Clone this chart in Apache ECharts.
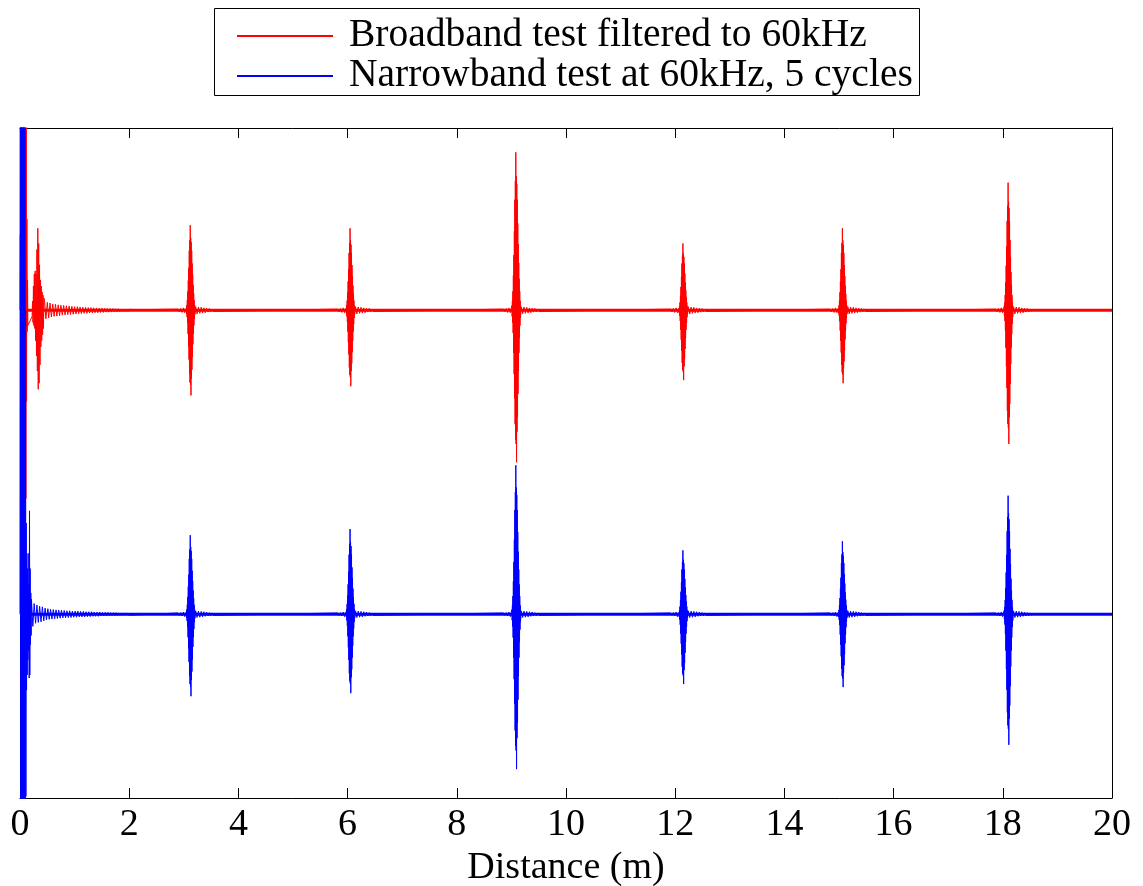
<!DOCTYPE html>
<html><head><meta charset="utf-8">
<script src="https://cdn.jsdelivr.net/npm/echarts@6/dist/echarts.min.js"></script>
<style>html,body{margin:0;padding:0;background:#fff}#c{width:1143px;height:886px}</style>
</head><body><div id="c"></div>
<script>
// ---------- data ----------
const seriesNames = ['Broadband test filtered to 60kHz', 'Narrowband test at 60kHz, 5 cycles'];
const xAxisTitle = 'Distance (m)';
const xTicks = [0, 2, 4, 6, 8, 10, 12, 14, 16, 18, 20];
const traceOffsets = [1, 0];            // red trace lifted by 1 unit, blue at 0
const yRange = [-0.605, 1.6];

// distances (m) of the echoes
const echoDistances = [3.118, 6.045, 9.081, 12.141, 15.062, 18.097];
const burstStep = 0.0045;  // spacing between successive half-cycle peaks inside bursts (m)
const headStep = 0.006;
const ringStep = 0.025;    // spacing in ringing (m)

// red: direct signal near 0 m
const redHeadStart = 0.0;
const redHead = [0.0, 0.25, -0.2, 0.3, -0.3, 0.35, -0.3, 0.3, -0.4, 0.4, -0.35, 0.3, -0.3, 0.35, -0.4, 0.45, -0.5, 0.6, -0.62, 1.0, -0.3, 0.3, -0.07, 0.1, -0.05];
// red: first echo at ~0.33 m
const redFirstStart = 0.222, redFirstStep = 0.008;
const redFirst = [-0.02, 0.03, -0.04, 0.08, -0.05, 0.12, -0.06, 0.13, -0.1, 0.12, -0.15, 0.2, -0.2, 0.27, -0.26, 0.22, -0.24, 0.15, -0.18, 0.1, -0.12, 0.08, -0.1, 0.06, -0.08, 0.05, -0.06, 0.04];
// red: decaying ringing 0.45 - 2.2 m
const redTailStart = 0.45;
const redTail = [0.03, -0.028, 0.026, -0.025, 0.024, -0.022, 0.021, -0.02, 0.02, -0.019,
  0.018, -0.018, 0.017, -0.016, 0.016, -0.015, 0.015, -0.014, 0.014, -0.014,
  0.013, -0.013, 0.012, -0.012, 0.012, -0.011, 0.011, -0.011, 0.01, -0.01,
  0.01, -0.01, 0.009, -0.009, 0.009, -0.009, 0.008, -0.008, 0.008, -0.008,
  0.007, -0.007, 0.007, -0.007, 0.007, -0.006, 0.006, -0.006, 0.006, -0.006,
  0.006, -0.005, 0.005, -0.005, 0.005, -0.005, 0.004, -0.004, 0.004, -0.004,
  0.004, -0.004, 0.003, -0.003, 0.003, -0.003, 0.002, -0.002, 0.002, -0.002];
// red echo bursts: upper half-cycle peaks and lower half-cycle troughs (magnitudes)
const redBurstPeaks = [
  [0.008, 0.017, 0.034, 0.062, 0.098, 0.14, 0.196, 0.23, 0.28, 0.238, 0.224, 0.196, 0.154, 0.118, 0.084, 0.056, 0.034, 0.017],
  [0.008, 0.016, 0.032, 0.059, 0.095, 0.135, 0.189, 0.221, 0.27, 0.23, 0.216, 0.189, 0.149, 0.113, 0.081, 0.054, 0.032, 0.016],
  [0.016, 0.031, 0.062, 0.114, 0.182, 0.26, 0.364, 0.426, 0.52, 0.442, 0.416, 0.364, 0.286, 0.218, 0.156, 0.104, 0.062, 0.031],
  [0.007, 0.013, 0.026, 0.048, 0.077, 0.11, 0.154, 0.18, 0.22, 0.187, 0.176, 0.154, 0.121, 0.092, 0.066, 0.044, 0.026, 0.013],
  [0.008, 0.016, 0.032, 0.059, 0.095, 0.135, 0.189, 0.221, 0.27, 0.23, 0.216, 0.189, 0.149, 0.113, 0.081, 0.054, 0.032, 0.016],
  [0.013, 0.025, 0.05, 0.092, 0.147, 0.21, 0.294, 0.344, 0.42, 0.357, 0.336, 0.294, 0.231, 0.176, 0.126, 0.084, 0.05, 0.025]
];
const redBurstTroughs = [
  [0.011, 0.022, 0.042, 0.078, 0.118, 0.162, 0.21, 0.238, 0.246, 0.28, 0.224, 0.196, 0.154, 0.112, 0.078, 0.05, 0.028, 0.014],
  [0.01, 0.02, 0.038, 0.07, 0.105, 0.145, 0.188, 0.213, 0.22, 0.25, 0.2, 0.175, 0.138, 0.1, 0.07, 0.045, 0.025, 0.013],
  [0.02, 0.04, 0.075, 0.14, 0.21, 0.29, 0.375, 0.425, 0.44, 0.5, 0.4, 0.35, 0.275, 0.2, 0.14, 0.09, 0.05, 0.025],
  [0.009, 0.018, 0.035, 0.064, 0.097, 0.133, 0.173, 0.196, 0.202, 0.23, 0.184, 0.161, 0.127, 0.092, 0.064, 0.041, 0.023, 0.012],
  [0.01, 0.019, 0.036, 0.067, 0.101, 0.139, 0.18, 0.204, 0.211, 0.24, 0.192, 0.168, 0.132, 0.096, 0.067, 0.043, 0.024, 0.012],
  [0.018, 0.035, 0.066, 0.123, 0.185, 0.255, 0.33, 0.374, 0.387, 0.44, 0.352, 0.308, 0.242, 0.176, 0.123, 0.079, 0.044, 0.022]
];
const redRingPre = [0.004, -0.005, 0.006, -0.007, 0.008, -0.008];
const redRingPost = [0.012, -0.012, 0.011, -0.01, 0.01, -0.009, 0.008, -0.008, 0.007, -0.006, 0.006, -0.005, 0.004, -0.004];

// blue: direct signal near 0 m (saturates the axis)
const blueHeadStart = 0.0;
const blueHead = [0.0, 2.0, -2.0, 2.0, -2.0, 2.0, -2.0, 2.0, -2.0, 2.0, -2.0, 2.0, -2.0, 2.0, -2.0, 2.0, -1.5, 1.0, -0.6, 0.3, -0.25, 0.2, -0.2, 0.15, -0.15, 0.1, -0.12, 0.2, -0.21, 0.34, -0.2, 0.15, -0.1, 0.07, -0.07];
// blue: decaying ringing 0.21 - 2.2 m
const blueTailStart = 0.21;
const blueTail = [0.05, -0.04, 0.035, -0.03, 0.03, -0.027, 0.026, -0.025, 0.024, -0.022,
  0.02, -0.019, 0.018, -0.017, 0.016, -0.016, 0.015, -0.015, 0.014, -0.014,
  0.013, -0.013, 0.013, -0.012, 0.012, -0.012, 0.011, -0.011, 0.011, -0.011,
  0.01, -0.01, 0.01, -0.01, 0.01, -0.009, 0.009, -0.009, 0.009, -0.009,
  0.008, -0.008, 0.008, -0.008, 0.008, -0.007, 0.007, -0.007, 0.007, -0.007,
  0.007, -0.006, 0.006, -0.006, 0.006, -0.006, 0.006, -0.005, 0.005, -0.005,
  0.005, -0.005, 0.005, -0.005, 0.004, -0.004, 0.004, -0.004, 0.004, -0.004,
  0.004, -0.003, 0.003, -0.003, 0.003, -0.003, 0.002, -0.002, 0.002, -0.002];
// blue echo bursts
const blueBurstPeaks = [
  [0.008, 0.016, 0.031, 0.057, 0.091, 0.13, 0.182, 0.213, 0.26, 0.221, 0.208, 0.182, 0.143, 0.109, 0.078, 0.052, 0.031, 0.016],
  [0.008, 0.017, 0.034, 0.062, 0.098, 0.14, 0.196, 0.23, 0.28, 0.238, 0.224, 0.196, 0.154, 0.118, 0.084, 0.056, 0.034, 0.017],
  [0.015, 0.029, 0.059, 0.108, 0.172, 0.245, 0.343, 0.402, 0.49, 0.417, 0.392, 0.343, 0.27, 0.206, 0.147, 0.098, 0.059, 0.029],
  [0.006, 0.013, 0.025, 0.046, 0.074, 0.105, 0.147, 0.172, 0.21, 0.179, 0.168, 0.147, 0.116, 0.088, 0.063, 0.042, 0.025, 0.013],
  [0.007, 0.014, 0.029, 0.053, 0.084, 0.12, 0.168, 0.197, 0.24, 0.204, 0.192, 0.168, 0.132, 0.101, 0.072, 0.048, 0.029, 0.014],
  [0.012, 0.023, 0.047, 0.086, 0.137, 0.195, 0.273, 0.32, 0.39, 0.332, 0.312, 0.273, 0.215, 0.164, 0.117, 0.078, 0.047, 0.023]
];
const blueBurstTroughs = [
  [0.011, 0.022, 0.041, 0.076, 0.113, 0.157, 0.203, 0.23, 0.238, 0.27, 0.216, 0.189, 0.149, 0.108, 0.076, 0.049, 0.027, 0.014],
  [0.01, 0.021, 0.039, 0.073, 0.109, 0.151, 0.195, 0.221, 0.229, 0.26, 0.208, 0.182, 0.143, 0.104, 0.073, 0.047, 0.026, 0.013],
  [0.02, 0.041, 0.077, 0.143, 0.214, 0.296, 0.383, 0.434, 0.449, 0.51, 0.408, 0.357, 0.281, 0.204, 0.143, 0.092, 0.051, 0.026],
  [0.009, 0.018, 0.035, 0.064, 0.097, 0.133, 0.173, 0.196, 0.202, 0.23, 0.184, 0.161, 0.127, 0.092, 0.064, 0.041, 0.023, 0.012],
  [0.01, 0.019, 0.036, 0.067, 0.101, 0.139, 0.18, 0.204, 0.211, 0.24, 0.192, 0.168, 0.132, 0.096, 0.067, 0.043, 0.024, 0.012],
  [0.017, 0.034, 0.065, 0.12, 0.181, 0.249, 0.323, 0.366, 0.378, 0.43, 0.344, 0.301, 0.237, 0.172, 0.12, 0.077, 0.043, 0.022]
];
const blueRingPre = [0.004, -0.004, 0.005, -0.006, 0.007, -0.008];
const blueRingPost = [0.011, -0.011, 0.01, -0.01, 0.009, -0.009, 0.008, -0.007, 0.007, -0.006, 0.005, -0.005, 0.004, -0.004];

// ---------- build series points ----------
function pushSeg(out, start, step, values, off) {
  for (let i = 0; i < values.length; i++) out.push([start + i * step, off + values[i]]);
}
function pushBurst(out, start, peaks, troughs, off) {
  for (let i = 0; i < peaks.length; i++) {
    out.push([start + (2 * i) * burstStep, off + peaks[i]]);
    out.push([start + (2 * i + 1) * burstStep, off - troughs[i]]);
  }
}
function buildTrace(off, head, headStart, first, firstStart, firstStep, tail, tailStart, peaks, troughs, pre, post) {
  const pts = [];
  pushSeg(pts, headStart, headStep, head, off);
  if (first) pushSeg(pts, firstStart, firstStep, first, off);
  pushSeg(pts, tailStart, ringStep, tail, off);
  echoDistances.forEach((c, k) => {
    pushSeg(pts, c - 0.225, ringStep, pre, off);
    pushBurst(pts, c - 0.072, peaks[k], troughs[k], off);
    pushSeg(pts, c + 0.1, ringStep, post, off);
  });
  return pts;
}
const redPts = buildTrace(traceOffsets[0], redHead, redHeadStart, redFirst, redFirstStart, redFirstStep, redTail, redTailStart, redBurstPeaks, redBurstTroughs, redRingPre, redRingPost);
const bluePts = buildTrace(traceOffsets[1], blueHead, blueHeadStart, null, 0, 0, blueTail, blueTailStart, blueBurstPeaks, blueBurstTroughs, blueRingPre, blueRingPost);
const redFloor = [[xTicks[0], traceOffsets[0]], [xTicks[xTicks.length - 1], traceOffsets[0]]];
const blueFloor = [[xTicks[0], traceOffsets[1]], [xTicks[xTicks.length - 1], traceOffsets[1]]];

const FONT = 'Liberation Serif';
const chart = echarts.init(document.getElementById('c'), null, { renderer: 'canvas' });
const xMin = xTicks[0], xMax = xTicks[xTicks.length - 1], xInt = xTicks[1] - xTicks[0];
const axisLineStyle = { color: '#000', width: 1 };
chart.setOption({
  animation: false,
  backgroundColor: '#fff',
  grid: { left: 20, right: 31, top: 128, bottom: 88, containLabel: false, outerBoundsMode: 'none' },
  graphic: { elements: [{ type: 'rect', z: 0, shape: { x: 214.5, y: 8.5, width: 705, height: 87 }, style: { fill: '#fff', stroke: '#000', lineWidth: 1 } }] },
  legend: {
    data: seriesNames, orient: 'vertical', left: 237, top: 16, padding: 0, itemGap: 0,
    itemWidth: 96, itemHeight: 2, icon: 'rect', selectedMode: false, z: 10,
    textStyle: { fontFamily: FONT, fontSize: 39.5, lineHeight: 35, color: '#000', padding: [0, 0, 0, 11] }
  },
  xAxis: [
    { type: 'value', min: xMin, max: xMax, interval: xInt, position: 'bottom',
      axisLine: { show: true, onZero: false, lineStyle: axisLineStyle },
      axisTick: { show: true, inside: true, length: 10, lineStyle: axisLineStyle },
      axisLabel: { color: '#000', fontFamily: FONT, fontSize: 38, margin: 8, showMinLabel: true, showMaxLabel: true },
      splitLine: { show: false },
      name: xAxisTitle, nameLocation: 'middle', nameGap: 46,
      nameTextStyle: { color: '#000', fontFamily: FONT, fontSize: 38 } },
    { type: 'value', min: xMin, max: xMax, interval: xInt, position: 'top',
      axisLine: { show: true, onZero: false, lineStyle: axisLineStyle },
      axisTick: { show: true, inside: true, length: 10, lineStyle: axisLineStyle },
      axisLabel: { show: false }, splitLine: { show: false } }
  ],
  yAxis: [
    { type: 'value', min: yRange[0], max: yRange[1], position: 'left',
      axisLine: { show: true, onZero: false, lineStyle: axisLineStyle },
      axisTick: { show: false }, axisLabel: { show: false }, splitLine: { show: false } },
    { type: 'value', min: yRange[0], max: yRange[1], position: 'right',
      axisLine: { show: true, onZero: false, lineStyle: axisLineStyle },
      axisTick: { show: false }, axisLabel: { show: false }, splitLine: { show: false } }
  ],
  series: [
    { name: 'redFloor', type: 'line', data: redFloor, showSymbol: false, symbol: 'none', silent: true,
      lineStyle: { color: '#ff0000', width: 3 }, itemStyle: { color: '#ff0000' }, z: 2 },
    { name: seriesNames[0], type: 'line', data: redPts, showSymbol: false, symbol: 'none', silent: true,
      lineStyle: { color: '#ff0000', width: 1 }, itemStyle: { color: '#ff0000' }, z: 2 },
    { name: 'blueFloor', type: 'line', data: blueFloor, showSymbol: false, symbol: 'none', silent: true,
      lineStyle: { color: '#0000ff', width: 3 }, itemStyle: { color: '#0000ff' }, z: 3 },
    { name: seriesNames[1], type: 'line', data: bluePts, showSymbol: false, symbol: 'none', silent: true,
      lineStyle: { color: '#0000ff', width: 1 }, itemStyle: { color: '#0000ff' }, z: 3 }
  ]
});
</script></body></html>
